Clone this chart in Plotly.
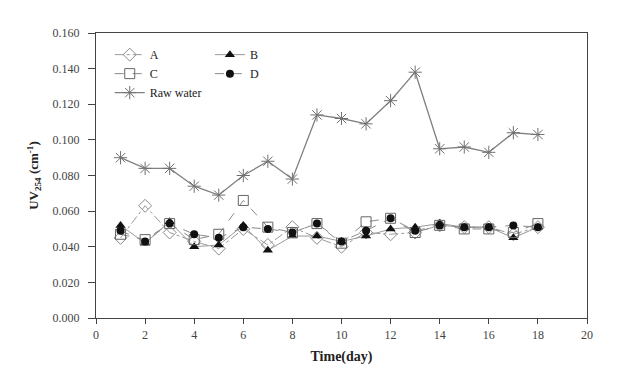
import plotly.graph_objects as go

days = list(range(1, 19))
series_A = [0.045, 0.063, 0.048, 0.043, 0.039, 0.050, 0.041, 0.051, 0.045, 0.040, 0.048, 0.047, 0.048, 0.052, 0.051, 0.051, 0.047, 0.051]
series_B = [0.052, 0.042, 0.054, 0.040, 0.041, 0.052, 0.038, 0.046, 0.046, 0.043, 0.046, 0.050, 0.051, 0.053, 0.051, 0.051, 0.045, 0.051]
series_C = [0.047, 0.044, 0.053, 0.044, 0.047, 0.066, 0.051, 0.048, 0.053, 0.042, 0.054, 0.056, 0.048, 0.052, 0.050, 0.050, 0.048, 0.053]
series_D = [0.049, 0.043, 0.053, 0.047, 0.045, 0.051, 0.050, 0.048, 0.053, 0.043, 0.049, 0.056, 0.049, 0.052, 0.051, 0.051, 0.052, 0.051]
raw_water = [0.090, 0.084, 0.084, 0.074, 0.069, 0.080, 0.088, 0.078, 0.114, 0.112, 0.109, 0.122, 0.138, 0.095, 0.096, 0.093, 0.104, 0.103]

x_ticks = [0, 2, 4, 6, 8, 10, 12, 14, 16, 18, 20]
y_ticks = [0.0, 0.02, 0.04, 0.06, 0.08, 0.10, 0.12, 0.14, 0.16]

FONT = "Liberation Serif"
fig = go.Figure()

fig.add_trace(go.Scatter(x=days, y=series_A, name="A", mode="lines+markers", legend="legend",
                         line=dict(color="#9a9a9a", width=1, dash="dashdot"),
                         marker=dict(symbol="diamond-open", size=10, color="#8a8a8a", line=dict(width=1))))
fig.add_trace(go.Scatter(x=days, y=series_B, name="B", mode="lines+markers", legend="legend2",
                         line=dict(color="#9a9a9a", width=1, dash="solid"),
                         marker=dict(symbol="triangle-up", size=9, color="#111111")))
fig.add_trace(go.Scatter(x=days, y=series_C, name="C", mode="lines+markers", legend="legend",
                         line=dict(color="#8a8a8a", width=1, dash="dash"),
                         marker=dict(symbol="square-open", size=10, color="#666666", line=dict(width=1))))
fig.add_trace(go.Scatter(x=days, y=series_D, name="D", mode="lines+markers", legend="legend2",
                         line=dict(color="#8a8a8a", width=1, dash="dash"),
                         marker=dict(symbol="circle", size=8, color="#111111")))
fig.add_trace(go.Scatter(x=days, y=raw_water, name="Raw water", mode="lines+markers", legend="legend",
                         line=dict(color="#808080", width=1.3),
                         marker=dict(symbol="asterisk-open", size=11, color="#707070", line=dict(width=1, color="#707070"))))

axis_common = dict(showgrid=False, zeroline=False, showline=True, linecolor="#444444", linewidth=1.3,
                   mirror=True, ticks="outside", tickcolor="#444444",
                   tickfont=dict(family=FONT, size=12, color="#444444"))

fig.update_layout(
    width=620, height=388,
    margin=dict(l=96, r=33, t=33, b=70),
    paper_bgcolor="white", plot_bgcolor="white",
    font=dict(family=FONT, color="#222222"),
    xaxis=dict(range=[0, 20], tickvals=x_ticks, ticktext=[str(v) for v in x_ticks], ticklen=5,
               title=dict(text="<b>Time(day)</b>", font=dict(family=FONT, size=14, color="#222222"), standoff=10),
               **axis_common),
    yaxis=dict(range=[0, 0.16], tickvals=y_ticks, ticktext=[f"{v:.3f}" for v in y_ticks], ticklen=7,
               ticklabelstandoff=6,
               title=dict(text="<b>UV<sub>254</sub> (cm<sup>-1</sup>)</b>", font=dict(family=FONT, size=13, color="#222222"), standoff=10),
               **axis_common),
    legend=dict(x=0.028, y=0.975, xanchor="left", yanchor="top", bgcolor="rgba(0,0,0,0)",
                font=dict(family=FONT, size=12, color="#222222"), tracegroupgap=0, itemwidth=30),
    legend2=dict(x=0.232, y=0.975, xanchor="left", yanchor="top", bgcolor="rgba(0,0,0,0)",
                 font=dict(family=FONT, size=12, color="#222222"), tracegroupgap=0, itemwidth=30),
)

fig.write_html("out.html")
